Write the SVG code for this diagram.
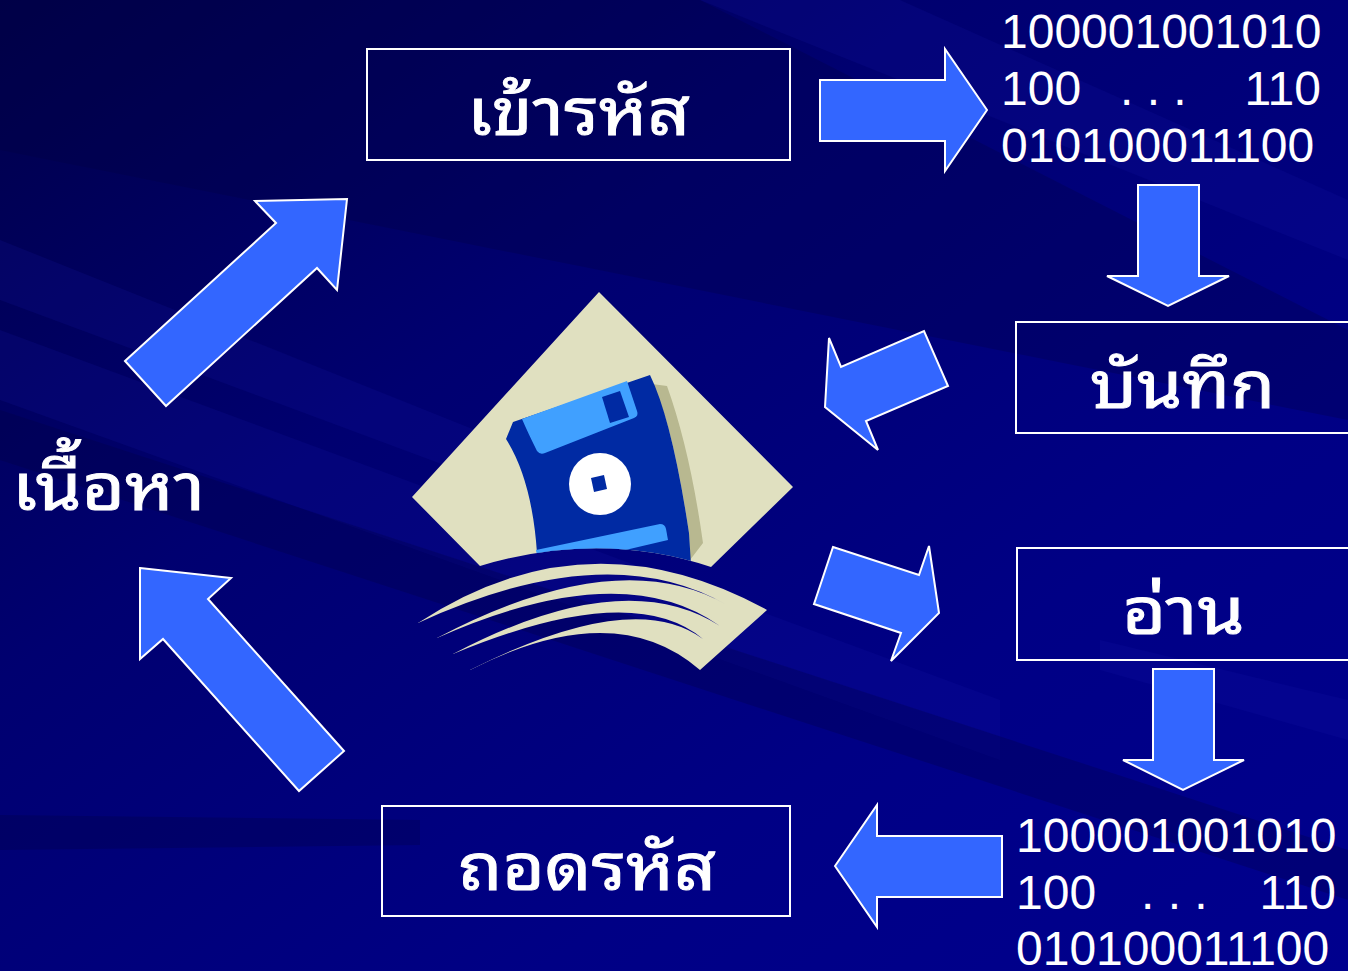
<svg xmlns="http://www.w3.org/2000/svg" width="1348" height="971" viewBox="0 0 1348 971">
  <defs>
    <linearGradient id="bg" x1="0" y1="0" x2="1" y2="1">
      <stop offset="0" stop-color="#00004a"/>
      <stop offset="0.35" stop-color="#000070"/>
      <stop offset="0.7" stop-color="#000085"/>
      <stop offset="1" stop-color="#00008e"/>
    </linearGradient>
    <clipPath id="diamondClip">
      <path d="M599,292 L793,487 L711,567 Q600,530 480,566 L412,497 Z"/>
    </clipPath>
    <!-- three tapering gaps cut out of the swoosh -->
    <mask id="swooshGaps" maskUnits="userSpaceOnUse" x="380" y="480" width="420" height="220">
      <rect x="380" y="480" width="420" height="220" fill="#ffffff"/>
      <path d="M418,623 Q607.5,536 727,605 Q618,542.5 437,638 L400,640 L400,620 Z" fill="#000000"/>
      <path d="M437,638 Q621.5,556 720,626 Q623.5,564 453,654 L400,660 L400,636 Z" fill="#000000"/>
      <path d="M453,654 Q632,579.5 703,639 Q633.5,587.5 470,670 L400,680 L400,652 Z" fill="#000000"/>
    </mask>
    <style>
      .arrow { fill: #3366ff; stroke: #ffffff; stroke-width: 2; stroke-linejoin: miter; }
      .box { fill: none; stroke: #ffffff; stroke-width: 2; }
      .thai { font-family: "Noto Sans Thai Looped", "Noto Sans Thai", "Noto Sans", Tahoma, sans-serif; font-weight: normal; font-size: 66px; fill: #ffffff; stroke: #ffffff; stroke-width: 1; }
      .bits { font-family: "Liberation Sans", Arial, sans-serif; font-size: 48px; fill: #ffffff; }
      .streak-dark { fill: #000040; opacity: 0.28; }
      .streak-light { fill: #1a1ab0; opacity: 0.16; }
      .beige { fill: #e0e0c0; }
    </style>
  </defs>

  <!-- background with diagonal streaks -->
  <rect x="0" y="0" width="1348" height="971" fill="url(#bg)"/>
  <g id="background-streaks">
    <polygon class="streak-dark" points="0,0 700,0 1348,330 1348,420 0,150"/>
    <polygon class="streak-light" points="0,240 0,300 700,560 700,520"/>
    <polygon class="streak-light" points="0,330 0,400 1000,760 1000,700"/>
    <polygon class="streak-dark" points="0,410 0,460 1348,900 1348,850"/>
    <polygon class="streak-light" points="1100,640 1348,700 1348,740 1100,670"/>
    <polygon class="streak-dark" points="0,815 420,820 420,845 0,850"/>
    <polygon class="streak-light" points="700,0 900,0 1348,200 1348,260"/>
  </g>

  <!-- connectors: block arrows -->
  <g id="connectors">
    <polygon class="arrow" points="820,80 945,80 945,49 987,110 945,171 945,141 820,141"/>
    <polygon class="arrow" points="1138,185 1199,185 1199,276 1229,276 1168,306 1107,276 1138,276"/>
    <polygon class="arrow" points="825,407 829,338 841,367 924,331 948,386 866,421 878,450"/>
    <polygon class="arrow" points="833,547 919,575 929,546 939,613 891,661 901,633 814,604"/>
    <polygon class="arrow" points="1153,669 1214,669 1214,760 1244,760 1183,790 1123,760 1153,760"/>
    <polygon class="arrow" points="835,866 877,805 877,836 1002,836 1002,897 877,897 877,927"/>
    <polygon class="arrow" points="140,568 231,578 208,599 344,751 299,791 163,639 140,659"/>
    <polygon class="arrow" points="125,361 276,223 255,201 347,199 337,290 317,268 166,406"/>
  </g>

  <!-- encode -->
  <g id="n-encode">
    <rect class="box" x="367" y="49" width="423" height="111"/>
    <text class="thai" x="467" y="135" textLength="223" lengthAdjust="spacingAndGlyphs">เข้ารหัส</text>
  </g>

  <!-- save -->
  <g id="n-save">
    <rect class="box" x="1016" y="322" width="340" height="111"/>
    <text class="thai" x="1090" y="408" textLength="185" lengthAdjust="spacingAndGlyphs">บันทึก</text>
  </g>

  <!-- read -->
  <g id="n-read">
    <rect class="box" x="1017" y="548" width="340" height="112"/>
    <text class="thai" x="1122" y="634" textLength="123" lengthAdjust="spacingAndGlyphs">อ่าน</text>
  </g>

  <!-- decode -->
  <g id="n-decode">
    <rect class="box" x="382" y="806" width="408" height="110"/>
    <text class="thai" x="458" y="890" textLength="258" lengthAdjust="spacingAndGlyphs">ถอดรหัส</text>
  </g>

  <!-- content -->
  <g id="n-content">
    <text class="thai" x="12" y="510" textLength="193" lengthAdjust="spacingAndGlyphs">เนื้อหา</text>
  </g>

  <!-- encoded bits -->
  <g id="n-bits-top">
    <text class="bits" x="1001" y="48">100001001010</text>
    <text class="bits" y="105"><tspan x="1001">100</tspan><tspan x="1120">. . .</tspan><tspan x="1321" text-anchor="end">110</tspan></text>
    <text class="bits" x="1001" y="162">010100011100</text>
  </g>

  <!-- read bits -->
  <g id="n-bits-bottom">
    <text class="bits" x="1016" y="852">100001001010</text>
    <text class="bits" y="909"><tspan x="1016">100</tspan><tspan x="1141">. . .</tspan><tspan x="1336" text-anchor="end">110</tspan></text>
    <text class="bits" x="1016" y="965">010100011100</text>
  </g>

  <!-- floppy disk clip art -->
  <g id="n-disk">
    <path class="beige" d="M599,292 L793,487 L711,567 Q600,530 480,566 L412,497 Z"/>
    <g clip-path="url(#diamondClip)">
      <!-- shadow -->
      <path d="M652,384 L667,386 Q690,450 703,543 L690,560 L689,533 Q672,420 652,384 Z" fill="#b8b890"/>
      <!-- disk body -->
      <path d="M506,439 L513,422 L650,375 Q672,420 689,533 L692,580 L540,580 L537,553 Q532,480 506,439 Z" fill="#002aa3"/>
      <!-- shutter -->
      <path d="M522,419 L627,381 L637,411 Q639,416 634,418 L545,453 Q540,455 537,451 Q528,433 522,419 Z" fill="#40a0ff"/>
      <polygon points="602,397 620,391 629,417 610,423" fill="#002aa3"/>
      <!-- label strip -->
      <path d="M536,550 L660,524 Q665,524 666,529 L668,540 L540,570 Z" fill="#40a0ff"/>
      <!-- hub -->
      <circle cx="600" cy="484" r="31" fill="#ffffff"/>
      <polygon points="591,478 604,475 607,489 594,492" fill="#002aa3"/>
    </g>
    <!-- swoosh: one beige sweep with the gaps masked out -->
    <path class="beige" mask="url(#swooshGaps)" d="M418,623 Q587.5,511.5 767,610 L700,670 Q615,596 470,670 Z"/>
  </g>
</svg>
